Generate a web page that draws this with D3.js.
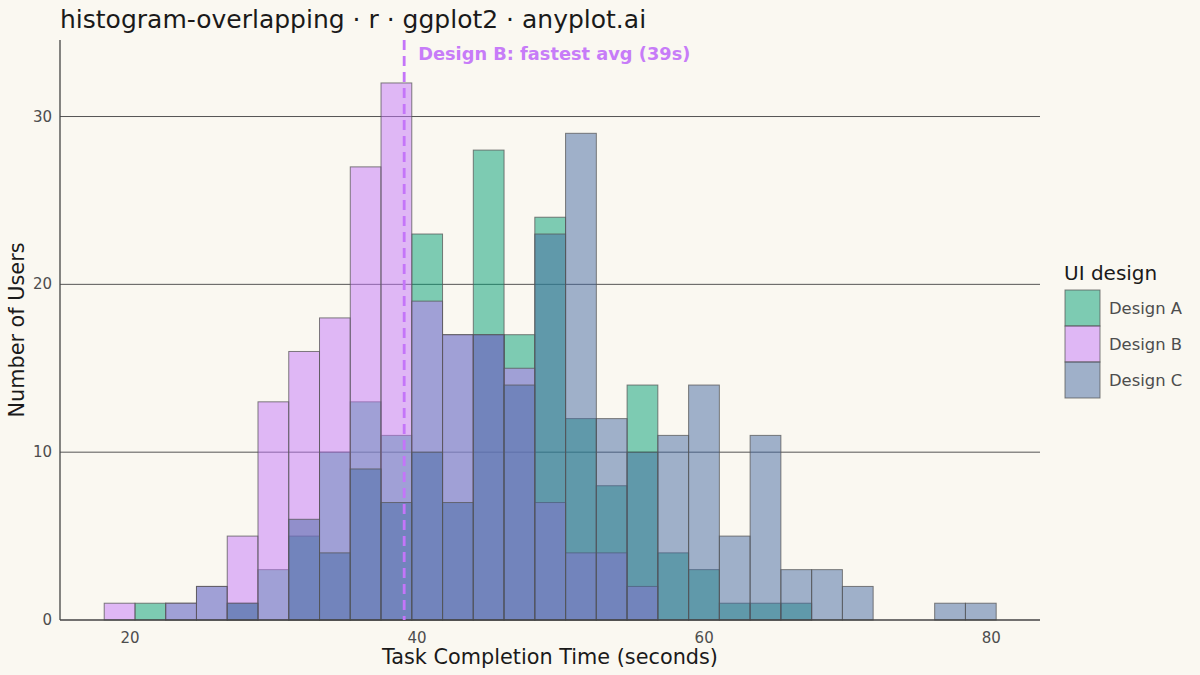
<!DOCTYPE html>
<html lang="en">
<head>
    <meta charset="UTF-8">
    <title>histogram-overlapping</title>
    <script src="https://d3js.org/d3.v7.min.js"></script>
    <style>
        body { margin: 0; background: #FAF8F1; }
        svg { display: block; font-family: "DejaVu Sans", sans-serif; }
    </style>
</head>
<body>
<script>
    var w = 1200;
    var h = 675;

    // bins: 29 equal-width bins starting at 18.2 s
    var binStart = 18.2;
    var binWidth = 2.143;

    var designs = ["Design A", "Design B", "Design C"];
    var colors = ["#009E73", "#C475F9", "#4468A1"];

    var countsA = [0, 1, 1, 2, 1, 3, 5, 10, 13, 11, 23, 17, 28, 17, 24, 12, 8, 14, 4, 3, 1, 1, 1, 0, 0, 0, 0, 0, 0];
    var countsB = [1, 0, 1, 2, 5, 13, 16, 18, 27, 32, 19, 17, 17, 15, 7, 4, 4, 2, 0, 0, 0, 0, 0, 0, 0, 0, 0, 0, 0];
    var countsC = [0, 0, 0, 0, 1, 0, 6, 4, 9, 7, 10, 7, 17, 14, 23, 29, 12, 10, 11, 14, 5, 11, 3, 3, 2, 0, 0, 1, 1];

    var xTicks = [20, 40, 60, 80];
    var yTicks = [0, 10, 20, 30];

    var meanB = 39.1;
    var annotation = "Design B: fastest avg (39s)";

    var margin = {left: 60, right: 160, top: 40, bottom: 55};

    var xScale = d3.scaleLinear()
        .domain([15.12, 83.4])
        .range([margin.left, w - margin.right]);

    var yScale = d3.scaleLinear()
        .domain([0, 34.56])
        .range([h - margin.bottom, margin.top]);

    var svg = d3.select("body")
        .append("svg")
        .attr("width", w)
        .attr("height", h);

    svg.append("rect")
        .attr("width", w)
        .attr("height", h)
        .attr("fill", "#FAF8F1");

    // gridlines (major y only)
    svg.selectAll(".grid")
        .data(yTicks.filter(function(d) { return d > 0; }))
        .enter()
        .append("line")
        .attr("x1", margin.left)
        .attr("x2", w - margin.right)
        .attr("y1", function(d) { return yScale(d); })
        .attr("y2", function(d) { return yScale(d); })
        .attr("stroke", "#555")
        .attr("stroke-width", 1);

    // bars, one layer per design, drawn A then B then C
    var series = [countsA, countsB, countsC];
    series.forEach(function(counts, s) {
        var bins = counts.map(function(c, i) {
            return {x0: binStart + i * binWidth, x1: binStart + (i + 1) * binWidth, n: c};
        }).filter(function(b) { return b.n > 0; });

        svg.append("g")
            .selectAll("rect")
            .data(bins)
            .enter()
            .append("rect")
            .attr("x", function(d) { return xScale(d.x0); })
            .attr("y", function(d) { return yScale(d.n); })
            .attr("width", function(d) { return xScale(d.x1) - xScale(d.x0); })
            .attr("height", function(d) { return yScale(0) - yScale(d.n); })
            .attr("fill", colors[s])
            .attr("fill-opacity", 0.5)
            .attr("stroke", "#555")
            .attr("stroke-opacity", 0.75)
            .attr("stroke-width", 1);
    });

    // axis lines
    svg.append("line")
        .attr("x1", margin.left).attr("x2", margin.left)
        .attr("y1", margin.top).attr("y2", yScale(0))
        .attr("stroke", "#444").attr("stroke-width", 1.3);
    svg.append("line")
        .attr("x1", margin.left).attr("x2", w - margin.right)
        .attr("y1", yScale(0)).attr("y2", yScale(0))
        .attr("stroke", "#444").attr("stroke-width", 1.3);

    // tick labels
    svg.selectAll(".xlab")
        .data(xTicks)
        .enter()
        .append("text")
        .attr("x", function(d) { return xScale(d); })
        .attr("y", yScale(0) + 23)
        .attr("text-anchor", "middle")
        .attr("fill", "#4d4d4d")
        .attr("font-size", "15px")
        .text(function(d) { return d; });

    svg.selectAll(".ylab")
        .data(yTicks)
        .enter()
        .append("text")
        .attr("x", margin.left - 8)
        .attr("y", function(d) { return yScale(d) + 5; })
        .attr("text-anchor", "end")
        .attr("fill", "#4d4d4d")
        .attr("font-size", "15px")
        .text(function(d) { return d; });

    // axis titles
    svg.append("text")
        .attr("x", (margin.left + w - margin.right) / 2)
        .attr("y", 664)
        .attr("text-anchor", "middle")
        .attr("fill", "#1a1a1a")
        .attr("font-size", "20.8px")
        .text("Task Completion Time (seconds)");

    svg.append("text")
        .attr("transform", "translate(24," + (margin.top + yScale(0)) / 2 + ") rotate(-90)")
        .attr("text-anchor", "middle")
        .attr("fill", "#1a1a1a")
        .attr("font-size", "20.8px")
        .text("Number of Users");

    // title
    svg.append("text")
        .attr("x", 60)
        .attr("y", 28)
        .attr("fill", "#1a1a1a")
        .attr("font-size", "25px")
        .text("histogram-overlapping · r · ggplot2 · anyplot.ai");

    // mean line for design B
    svg.append("line")
        .attr("x1", xScale(meanB)).attr("x2", xScale(meanB))
        .attr("y1", margin.top).attr("y2", yScale(0))
        .attr("stroke", "#C475F9")
        .attr("stroke-width", 2.8)
        .attr("stroke-dasharray", "10,6");

    svg.append("text")
        .attr("x", xScale(meanB) + 14)
        .attr("y", 60)
        .attr("fill", "#C77CF8")
        .attr("font-size", "17.8px")
        .attr("font-weight", "bold")
        .text(annotation);

    // legend
    var legend = svg.append("g");
    legend.append("text")
        .attr("x", 1064)
        .attr("y", 280)
        .attr("fill", "#1a1a1a")
        .attr("font-size", "20px")
        .text("UI design");

    var keys = legend.selectAll(".key")
        .data(designs)
        .enter()
        .append("g")
        .attr("transform", function(d, i) { return "translate(1065," + (290 + i * 36) + ")"; });

    keys.append("rect")
        .attr("width", 35)
        .attr("height", 36)
        .attr("fill", function(d, i) { return colors[i]; })
        .attr("fill-opacity", 0.5)
        .attr("stroke", "#555")
        .attr("stroke-opacity", 0.75)
        .attr("stroke-width", 1);

    keys.append("text")
        .attr("x", 44)
        .attr("y", 24)
        .attr("fill", "#4d4d4d")
        .attr("font-size", "16.4px")
        .text(function(d) { return d; });
</script>
</body>
</html>
